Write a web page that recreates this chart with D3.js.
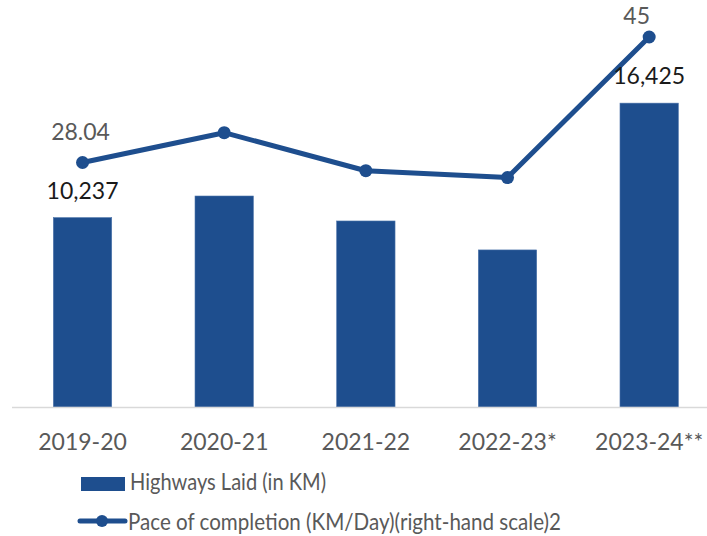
<!DOCTYPE html>
<html>
<head>
<meta charset="utf-8">
<script src="https://cdn.jsdelivr.net/npm/d3@7"></script>
<style>
    body { margin: 0; background: #fff; }
    svg text { font-family: Lato, "Noto Sans", sans-serif; }
</style>
</head>
<body>
<div id="chart"></div>
<script>
// data
var years = ["2019-20", "2020-21", "2021-22", "2022-23*", "2023-24**"];
var highwaysKm = [10237, 11405, 10055, 8490, 16425];
var paceKmDay = [28.04, 32.07, 26.93, 26.0, 45];
var labelledIdx = [0, 4];

var svgWidth = 707;
var svgHeight = 536;
var barColor = "#1e4e8e";

var svg = d3.select("#chart")
    .append("svg")
        .attr("width", svgWidth)
        .attr("height", svgHeight);

var x = d3.scaleBand()
    .domain(years)
    .range([11.7, 720])
    .paddingInner(0.588)
    .paddingOuter(0.294);

var yLeft = d3.scaleLinear().domain([0, 20000]).range([407, 37]);
var yRight = d3.scaleLinear().domain([-5, 45]).range([407, 37]);

// bars
svg.selectAll("rect.bar")
    .data(highwaysKm)
    .enter().append("rect")
    .classed("bar", true)
    .attr("x", (d, i) => x(years[i]))
    .attr("width", x.bandwidth())
    .attr("y", d => yLeft(d))
    .attr("height", d => yLeft(0) - yLeft(d))
    .attr("fill", barColor)
    .attr("stroke", "#4d74aa")
    .attr("stroke-width", 0.6);

// x axis
var xAxis = svg.append("g")
    .attr("transform", "translate(0,407.5)")
    .call(d3.axisBottom(x).tickSize(0).tickPadding(26));
xAxis.select(".domain")
    .attr("stroke", "#d9d9d9")
    .attr("stroke-width", 1.5)
    .attr("d", "M12,0H707");
xAxis.selectAll("text")
    .attr("font-size", 23)
    .attr("fill", "#595959")
    .style("font-family", "Lato, 'Noto Sans', sans-serif");

// line
var cx = (d, i) => x(years[i]) + x.bandwidth() / 2;
var line = d3.line()
    .x(cx)
    .y(d => yRight(d));

svg.append("path")
    .datum(paceKmDay)
    .attr("d", line)
    .attr("fill", "none")
    .attr("stroke", barColor)
    .attr("stroke-width", 5)
    .attr("stroke-linejoin", "round");

svg.selectAll("circle.pt")
    .data(paceKmDay)
    .enter().append("circle")
    .classed("pt", true)
    .attr("cx", cx)
    .attr("cy", d => yRight(d))
    .attr("r", 6.5)
    .attr("fill", barColor);

// data labels
labelledIdx.forEach(function(i) {
    var c = cx(null, i);
    svg.append("text")
        .attr("x", c)
        .attr("y", yLeft(highwaysKm[i]) - 19)
        .attr("text-anchor", "middle")
        .attr("font-size", 23)
        .attr("fill", "#1a1a1a")
        .text(d3.format(",")(highwaysKm[i]));

    // last one got pushed in by the chart edge
    var top = i == years.length - 1;
    svg.append("text")
        .attr("x", top ? c - 12.5 : c - 2)
        .attr("y", yRight(paceKmDay[i]) - (top ? 12.7 : 22.5))
        .attr("text-anchor", "middle")
        .attr("font-size", 23)
        .attr("fill", "#595959")
        .text(paceKmDay[i]);
});

// legend
var legend = svg.append("g");
legend.append("rect")
    .attr("x", 81)
    .attr("y", 477)
    .attr("width", 44)
    .attr("height", 14)
    .attr("fill", barColor);
legend.append("text")
    .attr("x", 130)
    .attr("y", 490)
    .attr("font-size", 23)
    .attr("fill", "#595959")
    .attr("textLength", 196)
    .attr("lengthAdjust", "spacingAndGlyphs")
    .text("Highways Laid (in KM)");

legend.append("line")
    .attr("x1", 80).attr("x2", 125)
    .attr("y1", 521).attr("y2", 521)
    .attr("stroke", barColor)
    .attr("stroke-width", 5)
    .attr("stroke-linecap", "round");
legend.append("circle")
    .attr("cx", 102)
    .attr("cy", 521)
    .attr("r", 6)
    .attr("fill", barColor);
legend.append("text")
    .attr("x", 128)
    .attr("y", 530)
    .attr("font-size", 23)
    .attr("fill", "#595959")
    .attr("textLength", 433)
    .attr("lengthAdjust", "spacingAndGlyphs")
    .text("Pace of completion (KM/Day)(right-hand scale)2");
</script>
</body>
</html>
